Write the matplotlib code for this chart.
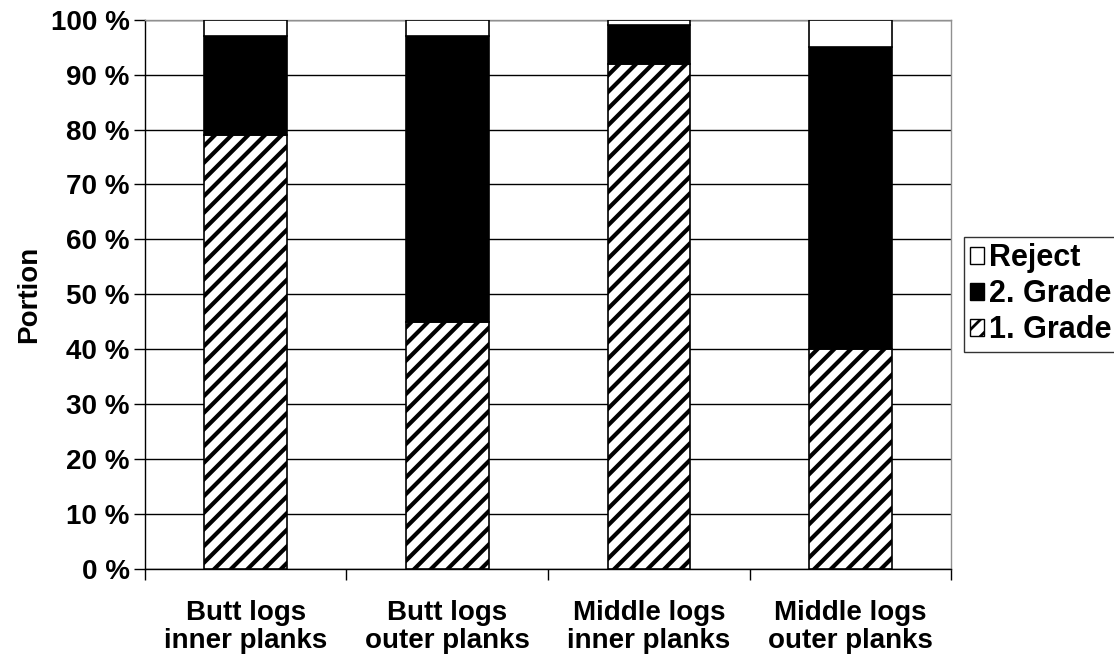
import matplotlib
matplotlib.use("Agg")
import matplotlib.pyplot as plt
import numpy as np
from matplotlib.patches import Patch

categories = ["Butt logs\ninner planks", "Butt logs\nouter planks",
              "Middle logs\ninner planks", "Middle logs\nouter planks"]
grade1 = [79, 45, 92, 40]
grade2 = [18, 52, 7, 55]
reject = [3, 3, 1, 5]
yticks = [0, 10, 20, 30, 40, 50, 60, 70, 80, 90, 100]

plt.rcParams['font.family'] = ['Liberation Sans', 'DejaVu Sans']
plt.rcParams['font.weight'] = 'bold'
plt.rcParams['hatch.linewidth'] = 3.0

fig = plt.figure(figsize=(11.14, 6.57), dpi=100)
ax = fig.add_axes([0.130, 0.134, 0.724, 0.836])

x = np.arange(len(categories))
w = 0.41
g1 = np.array(grade1)
g2 = np.array(grade2)
ax.bar(x, g1, w, color='white', edgecolor='black', hatch='//', linewidth=1.2, zorder=3)
ax.bar(x, g2, w, bottom=g1, color='black', edgecolor='black', linewidth=1.2, zorder=3)
ax.bar(x, reject, w, bottom=g1 + g2, color='white', edgecolor='black', linewidth=1.2, zorder=3)

ax.set_xlim(-0.5, 3.5)
ax.set_ylim(0, 100)
ax.set_yticks(yticks)
ax.set_yticklabels([f"{v} %" for v in yticks], fontsize=20, fontweight='bold')
ax.yaxis.grid(True, color='black', linewidth=1.0, zorder=0)
ax.set_axisbelow(True)

ax.set_xticks(x)
ax.set_xticklabels(categories, fontsize=20, fontweight='bold', linespacing=1.1)
ax.tick_params(axis='x', which='major', length=0, pad=22)
ax.set_xticks(np.arange(-0.5, 4.0, 1.0), minor=True)
ax.tick_params(axis='x', which='minor', length=8, width=1, direction='out')
ax.tick_params(axis='y', length=8, width=1, direction='out', pad=3)

ax.set_ylabel("Portion", fontsize=20, fontweight='bold', labelpad=6)

for s in ['left', 'bottom']:
    ax.spines[s].set_color('black')
    ax.spines[s].set_linewidth(1.0)
for s in ['top', 'right']:
    ax.spines[s].set_color('#909090')
    ax.spines[s].set_linewidth(1.0)

plt.rcParams['hatch.linewidth'] = 2.0
handles = [Patch(facecolor='white', edgecolor='black', label='Reject'),
           Patch(facecolor='black', edgecolor='black', label='2. Grade'),
           Patch(facecolor='white', edgecolor='black', hatch='//', label='1. Grade')]
leg = ax.legend(handles=handles, loc='center left', bbox_to_anchor=(1.016, 0.5),
                prop={'size': 22, 'weight': 'bold'}, frameon=True, fancybox=False,
                handlelength=0.45, handleheight=0.45, handletextpad=0.15,
                borderpad=0.2, labelspacing=0.2, borderaxespad=0)
leg.get_frame().set_edgecolor('black')
leg.get_frame().set_linewidth(1.0)

fig.savefig("out.png", dpi=100)
